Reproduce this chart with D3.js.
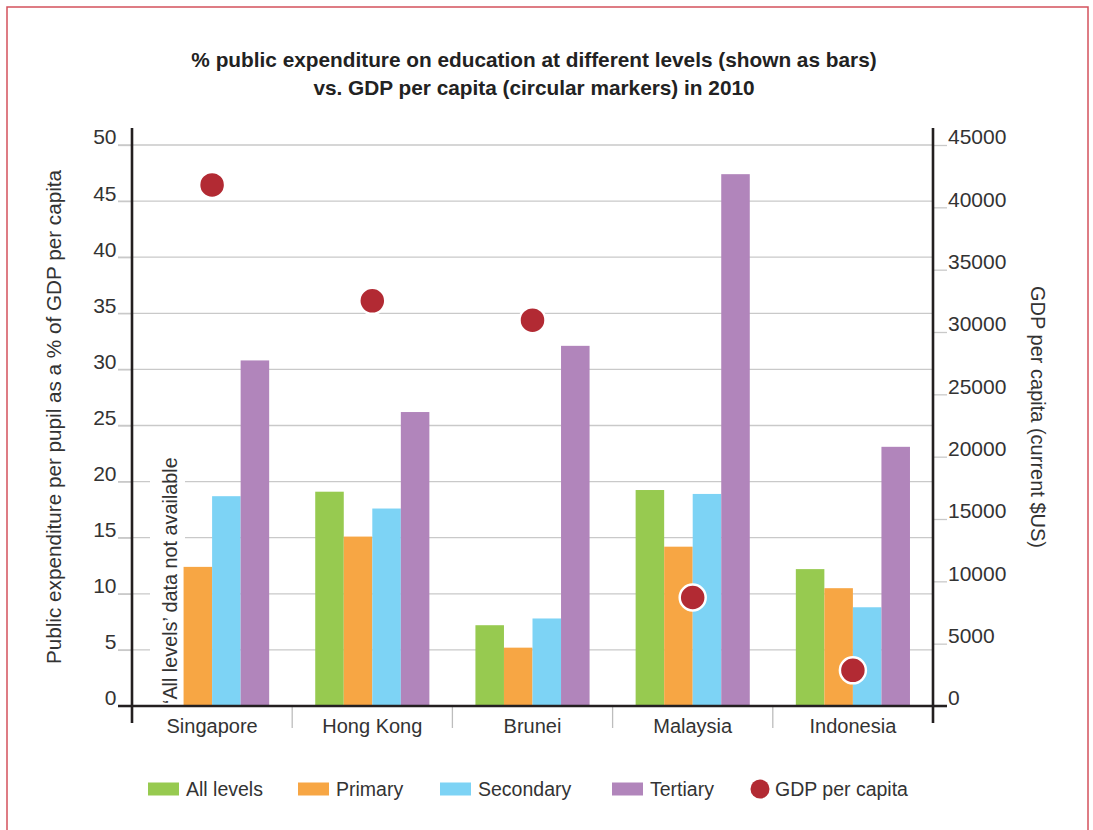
<!DOCTYPE html>
<html>
<head>
<meta charset="utf-8">
<script src="https://cdn.jsdelivr.net/npm/d3@7"></script>
<style>
  html, body { margin: 0; padding: 0; background: #fff; }
  svg { display: block; font-family: "Liberation Sans", Arial, Helvetica, sans-serif; }
</style>
</head>
<body>
<svg id="chart" width="1093" height="830"></svg>
<script>
// ---- Data ----
const countries = ["Singapore", "Hong Kong", "Brunei", "Malaysia", "Indonesia"];
const seriesNames = ["All levels", "Primary", "Secondary", "Tertiary"];
const allLevels = [null, 19.1, 7.2, 19.25, 12.2];
const primary   = [12.4, 15.1, 5.2, 14.2, 10.5];
const secondary = [18.7, 17.6, 7.8, 18.9, 8.8];
const tertiary  = [30.8, 26.2, 32.1, 47.4, 23.1];
const gdpPerCapita = [41800, 32500, 30950, 8700, 2860];
const leftTicks = [0, 5, 10, 15, 20, 25, 30, 35, 40, 45, 50];
const rightTicks = [0, 5000, 10000, 15000, 20000, 25000, 30000, 35000, 40000, 45000];
const titleLines = [
  "% public expenditure on education at different levels (shown as bars)",
  "vs. GDP per capita (circular markers) in 2010"
];
const leftAxisTitle = "Public expenditure per pupil as a % of GDP per capita";
const rightAxisTitle = "GDP per capita (current $US)";
const naNote = "\u2018All levels\u2019 data not available";
const gdpLabel = "GDP per capita";

// ---- Styles ----
const colors = { "All levels": "#97ca50", "Primary": "#f7a644", "Secondary": "#7dd3f5", "Tertiary": "#b185bb" };
const markerColor = "#b22a33";
const textColor = "#333";

const svg = d3.select("#chart");

// frame
svg.append("rect").attr("x", 7).attr("y", 7).attr("width", 1081).attr("height", 850)
  .attr("fill", "none").attr("stroke", "#d3525c").attr("stroke-width", 1.5);

const xLeft = 132, xRight = 933, yBase = 706, yTop = 145;

const x = d3.scaleBand().domain(countries).range([xLeft, xRight]).paddingInner(0).paddingOuter(0);
const xInner = d3.scaleBand().domain(seriesNames).range([0, x.bandwidth()]).paddingInner(0).paddingOuter(0.807);
const y = d3.scaleLinear().domain([0, 50]).range([yBase, yTop]);
const yR = d3.scaleLinear().domain([0, 45000]).range([yBase, yTop]);

// gridlines
svg.append("g").selectAll("line").data(leftTicks.filter(d => d > 0)).join("line")
  .attr("x1", 118).attr("x2", xRight)
  .attr("y1", d => y(d)).attr("y2", d => y(d))
  .attr("stroke", "#c9c9c9").attr("stroke-width", 1.3);

// data table
const table = countries.map((c, i) => ({
  country: c,
  values: [allLevels[i], primary[i], secondary[i], tertiary[i]].map((v, j) => ({ series: seriesNames[j], value: v })),
  gdp: gdpPerCapita[i]
}));

// note with white box behind it
const noteG = svg.append("g");
noteG.append("rect").attr("x", 150).attr("y", 448).attr("width", 35).attr("height", yBase - 448)
  .attr("fill", "#fff");
noteG.append("text")
  .attr("transform", `translate(177,${yBase - 2}) rotate(-90)`)
  .attr("font-size", 19.8).attr("fill", textColor).text(naNote);

// bars
const groups = svg.append("g").selectAll("g").data(table).join("g")
  .attr("transform", d => `translate(${x(d.country)},0)`);
groups.selectAll("rect").data(d => d.values.filter(v => v.value != null)).join("rect")
  .attr("x", d => xInner(d.series))
  .attr("width", xInner.bandwidth())
  .attr("y", d => y(d.value))
  .attr("height", d => yBase - y(d.value))
  .attr("fill", d => colors[d.series]);

// category dividers
svg.append("g").selectAll("line").data(countries.slice(1)).join("line")
  .attr("x1", d => x(d)).attr("x2", d => x(d))
  .attr("y1", yBase).attr("y2", 728)
  .attr("stroke", "#bdbdbd").attr("stroke-width", 1.3);

// axes
const leftAxis = svg.append("g").attr("transform", `translate(${xLeft},0)`)
  .call(d3.axisLeft(y).tickValues(leftTicks).tickSize(14).tickPadding(1.5));
leftAxis.select(".domain").remove();
leftAxis.selectAll(".tick line").attr("stroke", "#c9c9c9").attr("stroke-width", 1.3);
leftAxis.selectAll(".tick text").attr("dy", "-0.05em").attr("font-size", 21)
  .attr("fill", textColor).attr("font-family", null);

const rightAxis = svg.append("g").attr("transform", `translate(${xRight},0)`)
  .call(d3.axisRight(yR).tickValues(rightTicks).tickSize(14).tickPadding(1).tickFormat(d3.format("d")));
rightAxis.select(".domain").remove();
rightAxis.selectAll(".tick line").attr("stroke", "#c9c9c9").attr("stroke-width", 1.3);
rightAxis.selectAll(".tick text").attr("dy", "-0.05em").attr("font-size", 21)
  .attr("fill", textColor).attr("font-family", null);

const xAxis = svg.append("g").attr("transform", `translate(0,${yBase})`)
  .call(d3.axisBottom(x).tickSize(0).tickPadding(0));
xAxis.select(".domain").remove();
xAxis.selectAll(".tick text").attr("y", 27).attr("dy", 0).attr("font-size", 20)
  .attr("fill", textColor).attr("font-family", null);

// axis lines
svg.append("line").attr("x1", 118).attr("x2", 947).attr("y1", yBase).attr("y2", yBase)
  .attr("stroke", "#231f20").attr("stroke-width", 2.6);
svg.append("line").attr("x1", xLeft).attr("x2", xLeft).attr("y1", 128).attr("y2", 723)
  .attr("stroke", "#231f20").attr("stroke-width", 2.6);
svg.append("line").attr("x1", xRight).attr("x2", xRight).attr("y1", 128).attr("y2", 723)
  .attr("stroke", "#231f20").attr("stroke-width", 2.6);

// GDP markers
svg.append("g").selectAll("circle").data(table).join("circle")
  .attr("cx", d => x(d.country) + x.bandwidth() / 2)
  .attr("cy", d => yR(d.gdp))
  .attr("r", 13)
  .attr("fill", markerColor).attr("stroke", "#fff").attr("stroke-width", 2.5);

// title
svg.append("g").selectAll("text").data(titleLines).join("text")
  .attr("x", 534).attr("y", (d, i) => 67 + i * 28)
  .attr("text-anchor", "middle").attr("font-size", 20.8).attr("font-weight", "bold")
  .attr("fill", "#222").text(d => d);

// axis titles
svg.append("text").attr("transform", "translate(53,417) rotate(-90)")
  .attr("text-anchor", "middle").attr("dominant-baseline", "central")
  .attr("font-size", 20.7).attr("fill", textColor).text(leftAxisTitle);
svg.append("text").attr("transform", "translate(1038,417) rotate(90)")
  .attr("text-anchor", "middle").attr("dominant-baseline", "central")
  .attr("font-size", 20).attr("fill", textColor).text(rightAxisTitle);

// legend
const legendItems = seriesNames.map(s => ({ label: s, type: "rect", color: colors[s] }))
  .concat([{ label: gdpLabel, type: "circle", color: markerColor }]);
const legendX = [148, 298, 440, 612, 750];
const lg = svg.append("g").selectAll("g").data(legendItems).join("g")
  .attr("transform", (d, i) => `translate(${legendX[i]},0)`);
lg.filter(d => d.type === "rect").append("rect")
  .attr("x", 0).attr("y", 782.5).attr("width", 31).attr("height", 13)
  .attr("fill", d => d.color);
lg.filter(d => d.type === "circle").append("circle")
  .attr("cx", 10).attr("cy", 789).attr("r", 9.5).attr("fill", d => d.color);
lg.append("text")
  .attr("x", d => d.type === "rect" ? 38 : 25).attr("y", 796)
  .attr("font-size", 19.5).attr("fill", textColor).text(d => d.label);
</script>
</body>
</html>
